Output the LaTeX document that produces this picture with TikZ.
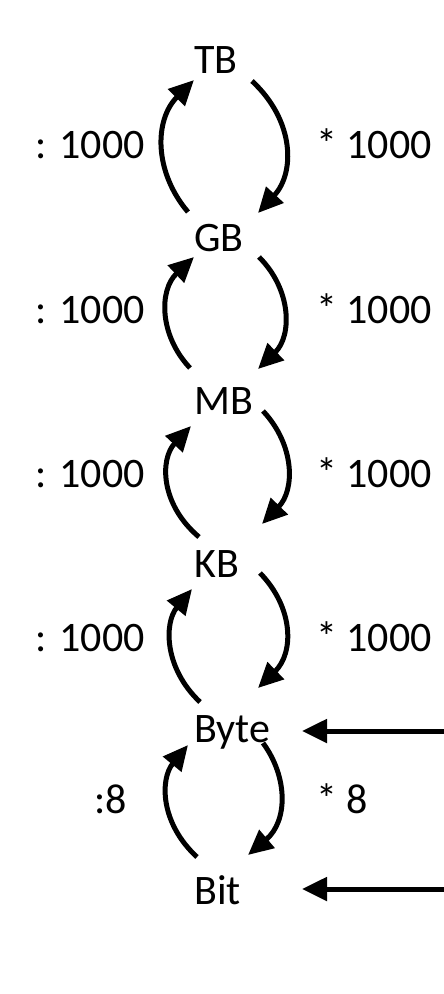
\documentclass[tikz,border=0pt]{standalone}
\usepackage{fontspec}
\setmainfont{Carlito}
\usetikzlibrary{arrows.meta,calc}
\begin{document}
\begin{tikzpicture}[x=1pt,y=1pt,
  unit/.style={anchor=base west,inner sep=0pt,font=\fontsize{42}{50}\selectfont},
  lbl/.style={inner sep=0pt,font=\fontsize{42}{50}\selectfont},
  arr/.style={line width=5pt,-{Triangle[length=25pt,width=23pt]}}]
\useasboundingbox (0,0) rectangle (444,-994);
\fill[white] (0,0) rectangle (444,-994);
\node[unit] (TB) at (194,-73) {TB};
\node[unit] (GB) at (194,-251) {GB};
\node[unit] (MB) at (194,-414) {MB};
\node[unit] (KB) at (194,-577) {KB};
\node[unit] (Byte) at (194,-742) {Byte};
\node[unit] (Bit) at (194,-904) {Bit};
% labels
\node[lbl,anchor=base east] (l1) at (145,-158) {: 1000};
\node[lbl,anchor=base west] (r1) at (316,-158) {* 1000};
\node[lbl,anchor=base east] (l2) at (145,-323) {: 1000};
\node[lbl,anchor=base west] (r2) at (316,-323) {* 1000};
\node[lbl,anchor=base east] (l3) at (145,-487) {: 1000};
\node[lbl,anchor=base west] (r3) at (316,-487) {* 1000};
\node[lbl,anchor=base east] (l4) at (145,-651) {: 1000};
\node[lbl,anchor=base west] (r4) at (316,-651) {* 1000};
\node[lbl,anchor=base east] (l5) at (127,-813) {:8};
\node[lbl,anchor=base west] (r5) at (316,-813) {* 8};
% arcs TB-GB
\draw[arr] ($(GB.base west)+(-6,39)$) .. controls +(-34,40) and +(-40,-40) .. ($(TB.base west)+(0,-7)$);
\draw[arr] ($(TB.base west)+(58,-8)$) .. controls +(43,-40) and +(37,40) .. ($(GB.base west)+(64,38)$);
% GB-MB
\draw[arr] ($(MB.base west)+(-4,46)$) .. controls +(-31,33) and +(-35,-33) .. ($(GB.base west)+(0,-6)$);
\draw[arr] ($(GB.base west)+(65,-6)$) .. controls +(33,-33) and +(34,33) .. ($(MB.base west)+(64,45)$);
% MB-KB
\draw[arr] ($(KB.base west)+(5,40)$) .. controls +(-39,33) and +(-31,-33) .. ($(MB.base west)+(-3,-12)$);
\draw[arr] ($(MB.base west)+(69,3)$) .. controls +(32,-34) and +(33,34) .. ($(KB.base west)+(68,53)$);
% KB-Byte
\draw[arr] ($(Byte.base west)+(6,40)$) .. controls +(-36,34) and +(-28,-34) .. ($(KB.base west)+(-2,-12)$);
\draw[arr] ($(KB.base west)+(66,4)$) .. controls +(34,-35) and +(36,35) .. ($(Byte.base west)+(64,54)$);
% Byte-Bit
\draw[arr] ($(Bit.base west)+(3,47)$) .. controls +(-37,34) and +(-28,-34) .. ($(Byte.base west)+(-6,-3)$);
\draw[arr] ($(Byte.base west)+(69,-1)$) .. controls +(25,-34) and +(40,34) .. ($(Bit.base west)+(54,49)$);
% incoming arrows
\coordinate (inByte) at (444,-731);
\coordinate (inBit) at (444,-889);
\draw[arr] (inByte) -- ($(Byte.base west)+(108,11)$);
\draw[arr] (inBit) -- ($(Bit.base west)+(108,15)$);
\end{tikzpicture}
\end{document}
